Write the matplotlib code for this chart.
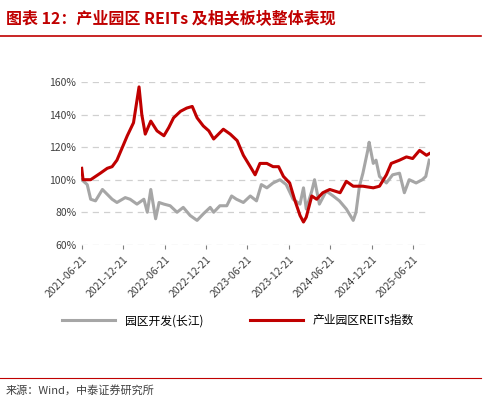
import numpy as np
import pandas as pd
import matplotlib.pyplot as plt

plt.rcParams["font.family"] = ["Noto Sans CJK SC", "DejaVu Sans"]

# 时间以 2021-06-21 起算的月数
red_m = [0, 0.2, 1.3, 2.7, 3.7, 4.4, 5.1, 5.9, 6.6, 7.5, 8.3, 8.7, 9.2, 10, 10.9, 11.9, 12.6,
         13.3, 14.3, 15.2, 16, 16.7, 17.6, 18.4, 19.1, 19.8, 20.5, 21.5, 22.5, 23.4, 24.4,
         25.1, 25.8, 26.8, 27.7, 28.5, 29.2, 30.1, 30.8, 31.6, 32.1, 32.5, 33.3, 34, 34.9,
         35.9, 37.4, 38.3, 39.3, 40.7, 42.2, 43.1, 44.1, 44.8, 46, 47, 47.9, 48.9, 49.9, 50.3]
red_v = [107, 100, 100, 104, 107, 108, 112, 120, 127, 135, 157, 140, 128, 136, 130, 127, 132,
         138, 142, 144, 145, 138, 133, 130, 125, 128, 131, 128, 124, 115, 108,
         103, 110, 110, 108, 108, 102, 98, 88, 78, 74, 77, 90, 88, 92,
         94, 92, 99, 96, 96, 95, 96, 103, 110, 112, 114, 113, 118, 115, 116]

gray_m = [0, 0.8, 1.3, 2.0, 3.0, 3.7, 4.4, 5.1, 6.3, 7.0, 8.0, 9.0, 9.5, 10.0, 10.7, 11.2,
          11.9, 12.8, 13.8, 14.7, 15.7, 16.7, 17.6, 18.6, 19.1, 20.0, 21.0, 21.7, 22.4, 23.4,
          24.4, 25.3, 26.0, 26.8, 27.7, 28.7, 29.6, 30.6, 31.6, 32.1, 32.5, 33.3, 33.7, 34.4,
          35.4, 36.4, 37.3, 38.3, 39.3, 39.7, 40.2, 40.7, 41.4, 41.6, 42.2, 42.6, 43.1, 44.1,
          45.0, 46.0, 46.7, 47.4, 48.4, 49.3, 49.8, 50.3]
gray_v = [100, 97, 88, 87, 94, 91, 88, 86, 89, 88, 85, 88, 80, 94, 76, 86,
          85, 84, 80, 83, 78, 75, 79, 83, 80, 84, 84, 90, 88, 86,
          90, 87, 97, 95, 98, 100, 97, 88, 85, 95, 82, 93, 100, 85,
          93, 90, 87, 82, 75, 80, 96, 104, 118, 123, 110, 112, 102, 98,
          103, 104, 92, 100, 98, 100, 102, 112]

tick_labels = ["2021-06-21", "2021-12-21", "2022-06-21", "2022-12-21", "2023-06-21",
               "2023-12-21", "2024-06-21", "2024-12-21", "2025-06-21"]

start = pd.Timestamp("2021-06-21")
to_date = lambda m: [start + pd.Timedelta(days=x * 30.44) for x in m]

fig = plt.figure(figsize=(4.88, 4.04), dpi=100)
ax = fig.add_axes([0.166, 0.394, 0.715, 0.403])

ax.plot(to_date(gray_m), np.array(gray_v) / 100, color="#a6a6a6", lw=2.2, label="园区开发(长江)")
ax.plot(to_date(red_m), np.array(red_v) / 100, color="#c00000", lw=2.2, label="产业园区REITs指数")

ax.set_ylim(0.6, 1.6)
ax.set_yticks(np.arange(0.6, 1.61, 0.2))
ax.set_yticklabels([f"{int(round(v * 100))}%" for v in np.arange(0.6, 1.61, 0.2)], fontsize=7.5, color="#404040")
ax.set_xlim(start - pd.Timedelta(days=3), to_date([50.4])[0])
ax.set_xticks(pd.to_datetime(tick_labels))
ax.set_xticklabels(tick_labels, rotation=45, ha="right", fontsize=7.5, color="#404040", rotation_mode="anchor")
ax.grid(axis="y", linestyle=(0, (5, 4)), color="#d0d0d0", lw=0.9)
ax.set_axisbelow(True)
for s in ["top", "right", "left"]:
    ax.spines[s].set_visible(False)
ax.spines["bottom"].set_visible(False)
ax.tick_params(axis="y", length=0)
ax.tick_params(axis="x", length=3, color="#808080")

ax.legend(loc="upper center", bbox_to_anchor=(0.45, -0.36), ncol=2, frameon=False,
          fontsize=8.5, handlelength=4.5, columnspacing=4)

fig.text(0.012, 0.955, "图表 12：产业园区 REITs 及相关板块整体表现", color="#c00000",
         fontsize=11.5, fontweight="bold", style="italic", va="center")
fig.add_artist(plt.Line2D([0.0, 0.985], [0.912, 0.912], color="#c00000", lw=1.2))
fig.add_artist(plt.Line2D([0.0, 0.985], [0.065, 0.065], color="#c00000", lw=0.8))
fig.text(0.012, 0.035, "来源：Wind，中泰证券研究所", fontsize=8, color="#404040", va="center")

fig.savefig("out.png", dpi=100)
